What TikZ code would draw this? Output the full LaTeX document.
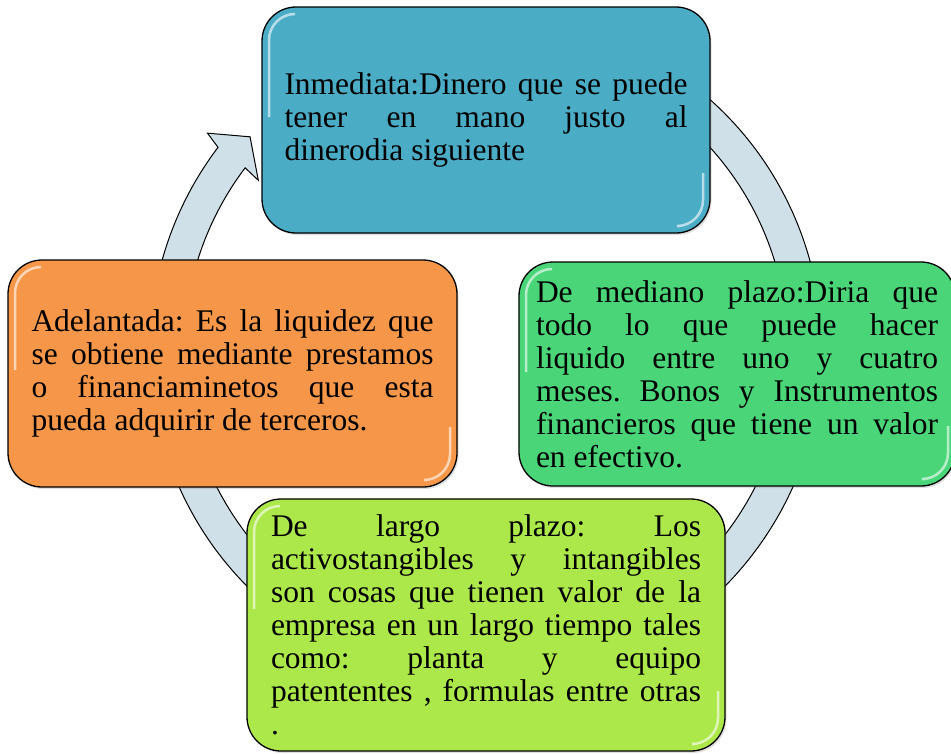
\documentclass[tikz,border=0pt]{standalone}
\usepackage{fontspec}
\setmainfont{Liberation Serif}
\usetikzlibrary{shadows}
\definecolor{aqua}{RGB}{75,172,198}
\definecolor{naranja}{RGB}{246,150,72}
\definecolor{verde}{RGB}{74,214,120}
\definecolor{lima}{RGB}{172,232,74}
\definecolor{anillo}{RGB}{208,224,232}
\tolerance=10000
\frenchspacing

\begin{document}
\begin{tikzpicture}[x=1pt,y=1pt,
	caja/.style={draw=black, line width=1.3pt, rounded corners=34pt, inner sep=0pt, align=justify, font=\fontsize{31.5}{33}\selectfont, drop shadow={opacity=0.25,shadow xshift=1.5pt,shadow yshift=-2pt},
		path picture={\draw[white, opacity=0.6, line width=2.5pt, rounded corners=26pt] ([xshift=7pt,yshift=-110pt]path picture bounding box.north west) -- ([xshift=7pt,yshift=-7pt]path picture bounding box.north west) -- ([xshift=30pt,yshift=-7pt]path picture bounding box.north west);
		\draw[white, opacity=0.6, line width=2.5pt, rounded corners=26pt] ([xshift=-7pt,yshift=60pt]path picture bounding box.south east) -- ([xshift=-7pt,yshift=7pt]path picture bounding box.south east) -- ([xshift=-30pt,yshift=7pt]path picture bounding box.south east);}}]
	\useasboundingbox (0,0) rectangle (951,-753);
	\begin{scope}[shift={(486,-350)}]
		\draw[fill=anillo, line width=1pt] (142.9:336) arc[start angle=142.9, end angle=460, radius=336] -- (460:302) arc[start angle=460, end angle=142.9, radius=302] -- (143.3:284) -- (137.9:318) -- (142.1:353) -- cycle;
	\end{scope}
	\node[caja, fill=aqua, minimum width=448pt, minimum height=226pt, text width=403pt] (inmediata) at (486,-120) {Inmediata:Dinero que se puede\linebreak tener en mano justo al\linebreak dinerodia siguiente};
	\node[caja, fill=verde, minimum width=436pt, minimum height=224pt, text width=402pt] (mediano) at (737,-374) {De mediano plazo:Diria que\linebreak todo lo que puede hacer\linebreak liquido entre uno y cuatro\linebreak meses. Bonos y Instrumentos\linebreak financieros que tiene un valor\linebreak en efectivo.};
	\node[caja, fill=naranja, minimum width=449pt, minimum height=227pt, text width=402pt] (adelantada) at (232.5,-373.5) {Adelantada: Es la liquidez que\linebreak se obtiene mediante prestamos\linebreak o financiaminetos que esta\linebreak pueda adquirir de terceros.};
	\node[caja, fill=lima, minimum width=478pt, minimum height=252pt, text width=430pt] (largo) at (486,-625) {De largo plazo: Los\linebreak activostangibles y intangibles\linebreak son cosas que tienen valor de la\linebreak empresa en un largo tiempo tales\linebreak como: planta y equipo\linebreak patententes , formulas entre otras\linebreak .};
\end{tikzpicture}
\end{document}
